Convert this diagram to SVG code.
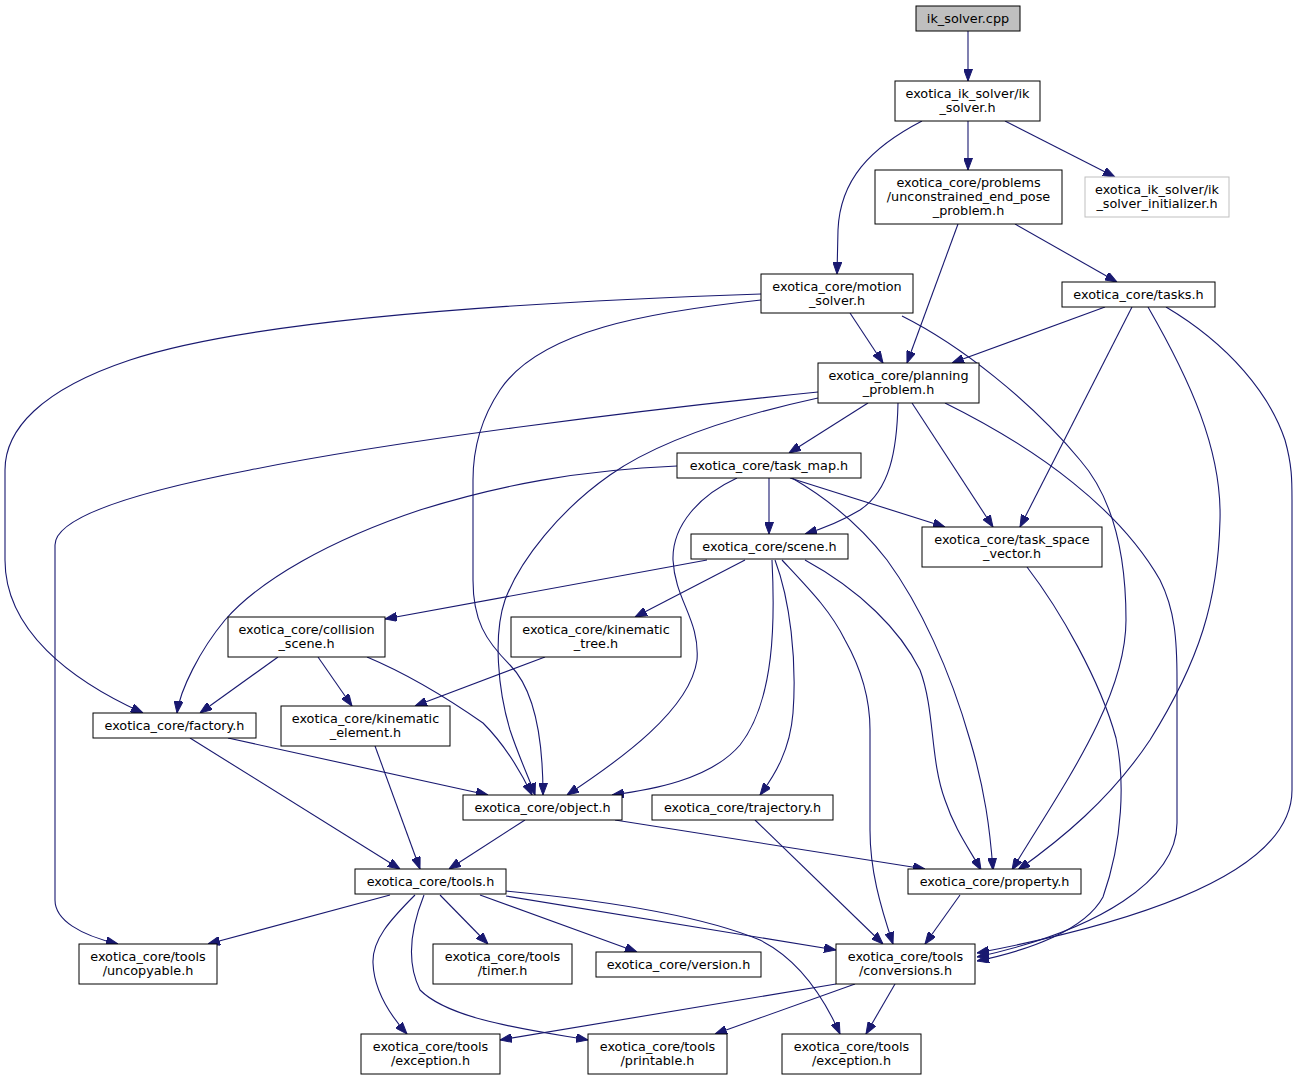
<svg xmlns="http://www.w3.org/2000/svg" width="1296" height="1080" viewBox="0 0 1296 1080">
<defs>
<style>
.n rect{fill:#fff;stroke:#000;stroke-width:1}
.n text{font-family:"DejaVu Sans",sans-serif;font-size:12.8px;text-anchor:middle;fill:#000}
.e path{fill:none;stroke:#191970;stroke-width:1.1;marker-end:url(#ah)}
</style>
<marker id="ah" markerUnits="userSpaceOnUse" markerWidth="12" markerHeight="9" refX="12" refY="4.5" orient="auto">
<path d="M0,0 L12,4.5 L0,9 z" fill="#191970" stroke="#191970" stroke-width="1"/>
</marker>
</defs>
<rect width="1296" height="1080" fill="#fff"/>
<g class="e" id="edges">
<path d="M968,31 L968,81"/>
<path d="M922,121 C870,148 840,180 838,230 L837,274"/>
<path d="M968,121 L968,170"/>
<path d="M1005,121 L1115,177"/>
<path d="M958,224 L907,363"/>
<path d="M1015,224 L1117,282"/>
<path d="M850,313 L883,363"/>
<path d="M761,294 C520,302 250,320 130,360 C40,390 5,430 5,470 L5,560 C5,630 70,680 143,713"/>
<path d="M761,300 C650,312 540,330 500,390 C480,420 473,450 473,480 L473,580 C473,620 485,640 510,665 C535,690 543,740 543,795"/>
<path d="M902,316 C960,345 1030,400 1080,460 C1115,500 1126,560 1126,620 C1126,700 1060,790 1012,870"/>
<path d="M1105,307 L952,363"/>
<path d="M1132,307 L1020,527"/>
<path d="M1148,307 C1190,380 1222,450 1220,520 C1218,600 1200,660 1150,740 C1110,800 1060,840 1018,870"/>
<path d="M1166,307 C1230,345 1270,395 1285,440 C1292,465 1292,480 1292,500 L1292,790 C1292,870 1150,920 977,953"/>
<path d="M868,403 L789,453"/>
<path d="M898,403 C897,450 890,490 860,510 C840,522 825,528 805,534"/>
<path d="M912,403 L993,527"/>
<path d="M945,403 C1040,450 1120,510 1160,580 C1175,610 1177,640 1177,680 L1177,823 C1177,880 1100,930 977,957"/>
<path d="M818,398 C740,415 660,440 610,475 C560,510 520,560 505,600 C493,635 498,690 510,730 C520,760 530,780 535,795"/>
<path d="M818,392 C640,410 400,440 250,470 C120,495 55,520 55,545 L55,900 C55,920 80,935 118,944"/>
<path d="M769,478 L769,534"/>
<path d="M790,478 L945,527"/>
<path d="M677,466 C580,470 500,485 420,510 C330,540 260,580 225,620 C200,650 180,690 177,713"/>
<path d="M737,478 C700,495 672,525 673,560 C675,600 700,620 697,660 C690,710 620,760 567,795"/>
<path d="M792,478 C830,500 860,525 887,560 C920,605 950,670 970,740 C985,790 990,830 993,870"/>
<path d="M707,560 L385,619"/>
<path d="M745,560 L635,617"/>
<path d="M772,560 C775,620 775,700 740,745 C710,780 650,790 612,795"/>
<path d="M775,560 C790,600 797,660 793,713 C790,750 775,775 760,795"/>
<path d="M782,560 C810,590 830,610 845,640 C862,670 870,700 870,730 L870,830 C870,870 880,905 893,944"/>
<path d="M805,560 C860,590 900,630 920,670 C935,710 930,760 945,800 C955,830 970,850 981,870"/>
<path d="M1027,567 C1060,610 1100,680 1116,738 C1125,780 1123,840 1103,897 C1085,930 1030,950 977,961"/>
<path d="M278,657 L200,713"/>
<path d="M318,657 L352,706"/>
<path d="M367,657 C410,675 450,700 483,723 C505,745 520,770 532,795"/>
<path d="M545,657 L415,706"/>
<path d="M228,738 L488,795"/>
<path d="M190,738 L400,869"/>
<path d="M375,746 L420,869"/>
<path d="M525,820 L449,869"/>
<path d="M615,820 L925,869"/>
<path d="M755,820 L883,944"/>
<path d="M960,895 L925,944"/>
<path d="M390,895 L208,944"/>
<path d="M440,895 L488,944"/>
<path d="M480,895 L637,952"/>
<path d="M506,896 L836,950"/>
<path d="M506,891 C600,900 700,915 760,940 C800,960 825,1000 840,1034"/>
<path d="M415,895 C390,920 372,940 373,963 C374,990 390,1015 407,1034"/>
<path d="M424,895 C412,925 405,960 420,990 C450,1020 530,1030 588,1040"/>
<path d="M836,984 L500,1040"/>
<path d="M855,984 L715,1034"/>
<path d="M895,984 L866,1034"/>
</g>
<g class="n" id="n0"><rect x="916" y="6" width="104" height="25" style="fill:#bfbfbf"/><text x="968" y="22.5">ik_solver.cpp</text></g>
<g class="n" id="n1"><rect x="895" y="81" width="145" height="40"/><text x="967.5" y="97.5">exotica_ik_solver/ik</text><text x="967.5" y="111.5">_solver.h</text></g>
<g class="n" id="n2"><rect x="875" y="170" width="187" height="54"/><text x="968.5" y="187">exotica_core/problems</text><text x="968.5" y="201">/unconstrained_end_pose</text><text x="968.5" y="215">_problem.h</text></g>
<g class="n" id="n3"><rect x="1085" y="177" width="144" height="40" style="stroke:#bfbfbf"/><text x="1157" y="193.5">exotica_ik_solver/ik</text><text x="1157" y="207.5">_solver_initializer.h</text></g>
<g class="n" id="n4"><rect x="761" y="274" width="152" height="39"/><text x="837" y="290.5">exotica_core/motion</text><text x="837" y="304.5">_solver.h</text></g>
<g class="n" id="n5"><rect x="1062" y="282" width="153" height="25"/><text x="1138.5" y="298.5">exotica_core/tasks.h</text></g>
<g class="n" id="n6"><rect x="818" y="363" width="161" height="40"/><text x="898.5" y="379.5">exotica_core/planning</text><text x="898.5" y="393.5">_problem.h</text></g>
<g class="n" id="n7"><rect x="677" y="453" width="184" height="25"/><text x="769" y="469.5">exotica_core/task_map.h</text></g>
<g class="n" id="n8"><rect x="691" y="534" width="157" height="25"/><text x="769.5" y="550.5">exotica_core/scene.h</text></g>
<g class="n" id="n9"><rect x="922" y="527" width="180" height="40"/><text x="1012" y="543.5">exotica_core/task_space</text><text x="1012" y="557.5">_vector.h</text></g>
<g class="n" id="n10"><rect x="228" y="617" width="157" height="40"/><text x="306.5" y="633.5">exotica_core/collision</text><text x="306.5" y="647.5">_scene.h</text></g>
<g class="n" id="n11"><rect x="511" y="617" width="170" height="40"/><text x="596" y="633.5">exotica_core/kinematic</text><text x="596" y="647.5">_tree.h</text></g>
<g class="n" id="n12"><rect x="93" y="713" width="163" height="25"/><text x="174.5" y="729.5">exotica_core/factory.h</text></g>
<g class="n" id="n13"><rect x="281" y="706" width="169" height="40"/><text x="365.5" y="722.5">exotica_core/kinematic</text><text x="365.5" y="736.5">_element.h</text></g>
<g class="n" id="n14"><rect x="463" y="795" width="159" height="25"/><text x="542.5" y="811.5">exotica_core/object.h</text></g>
<g class="n" id="n15"><rect x="652" y="795" width="181" height="25"/><text x="742.5" y="811.5">exotica_core/trajectory.h</text></g>
<g class="n" id="n16"><rect x="355" y="869" width="151" height="25"/><text x="430.5" y="885.5">exotica_core/tools.h</text></g>
<g class="n" id="n17"><rect x="908" y="869" width="173" height="25"/><text x="994.5" y="885.5">exotica_core/property.h</text></g>
<g class="n" id="n18"><rect x="79" y="944" width="138" height="40"/><text x="148" y="960.5">exotica_core/tools</text><text x="148" y="974.5">/uncopyable.h</text></g>
<g class="n" id="n19"><rect x="433" y="944" width="139" height="40"/><text x="502.5" y="960.5">exotica_core/tools</text><text x="502.5" y="974.5">/timer.h</text></g>
<g class="n" id="n20"><rect x="596" y="952" width="165" height="25"/><text x="678.5" y="968.5">exotica_core/version.h</text></g>
<g class="n" id="n21"><rect x="836" y="944" width="139" height="40"/><text x="905.5" y="960.5">exotica_core/tools</text><text x="905.5" y="974.5">/conversions.h</text></g>
<g class="n" id="n22"><rect x="361" y="1034" width="139" height="40"/><text x="430.5" y="1050.5">exotica_core/tools</text><text x="430.5" y="1064.5">/exception.h</text></g>
<g class="n" id="n23"><rect x="588" y="1034" width="139" height="40"/><text x="657.5" y="1050.5">exotica_core/tools</text><text x="657.5" y="1064.5">/printable.h</text></g>
<g class="n" id="n24"><rect x="782" y="1034" width="139" height="40"/><text x="851.5" y="1050.5">exotica_core/tools</text><text x="851.5" y="1064.5">/exception.h</text></g>
</svg>
